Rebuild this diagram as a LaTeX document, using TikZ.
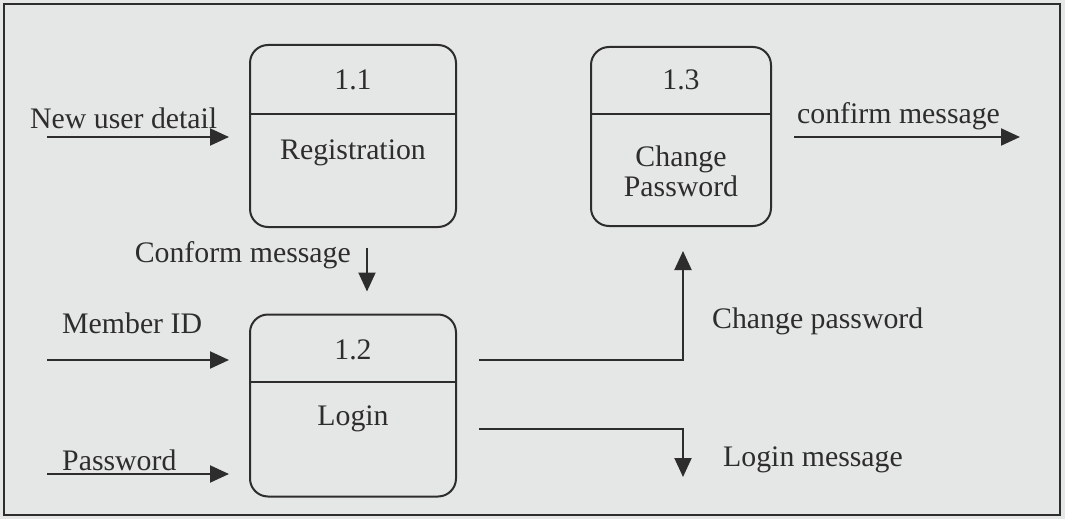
\documentclass[tikz,border=0pt]{standalone}
\usepackage{fontspec}
\setmainfont{Liberation Serif}
\usetikzlibrary{arrows.meta}
\definecolor{bg}{RGB}{229,231,230}
\definecolor{ink}{RGB}{45,45,45}
\tikzset{
  proc/.style={draw=ink, line width=2pt, rounded corners=18pt, minimum width=206pt, minimum height=182pt, inner sep=0pt},
  flow/.style={draw=ink, line width=2pt, -{Triangle[length=19pt,width=17pt]}},
  txt/.style={text=ink, inner sep=0pt, font=\fontsize{29.8}{30}\selectfont},
  divider/.style={draw=ink, line width=2pt}
}
\begin{document}
\begin{tikzpicture}[x=1pt,y=-1pt]
\useasboundingbox (0,0) rectangle (1065,519);
\fill[bg] (0,0) rectangle (1065,519);
\draw[ink, line width=2.5pt] (4,4) rectangle (1060,515);

% process boxes
\node[proc] (r) at (353,136) {};
\node[proc, minimum width=180pt, minimum height=179pt] (c) at (681,136.5) {};
\node[proc] (l) at (353,405.5) {};

\draw[divider] (r.west |- 0,114) -- (r.east |- 0,114);
\draw[divider] (c.west |- 0,114) -- (c.east |- 0,114);
\draw[divider] (l.west |- 0,382) -- (l.east |- 0,382);

\node[txt] (r1) at (353,80) {1.1};
\node[txt] (r2) at (353,153) {Registration};
\node[txt] (c1) at (681,80) {1.3};
\node[txt, align=center] (c2) at (681,171) {Change\\Password};
\node[txt] (l1) at (353,350) {1.2};
\node[txt] (l2) at (353,419) {Login};

% free ends
\coordinate (nu) at (47,137);
\coordinate (mi) at (47,360);
\coordinate (pw) at (47,474);
\coordinate (cm) at (1020,137);
\coordinate (lm) at (683,477);
\coordinate (cx) at (367,0);

% flows
\draw[flow, shorten >=20pt] (nu) -- (r.west |- nu);
\draw[flow, shorten >=20pt] (mi) -- (l.west |- mi);
\draw[flow, shorten >=20pt] (pw) -- (l.west |- pw);
\draw[flow, shorten <=20pt, shorten >=22pt] (r.south -| cx) -- (l.north -| cx);
\draw[flow, shorten <=22pt] (c.east |- cm) -- (cm);
\draw[flow, shorten <=22pt, shorten >=24pt] (l.east |- 0,360) -| (c.south -| lm);
\draw[flow, shorten <=22pt] (l.east |- 0,429) -| (lm);

% labels
\node[txt, anchor=west] (t1) at (30,118) {New user detail};
\node[txt, anchor=east] (t2) at (351,255) {Conform message};
\node[txt, anchor=west] (t3) at (62,323) {Member ID};
\node[txt, anchor=west] (t4) at (62,460) {Password};
\node[txt, anchor=west] (t5) at (797,116) {confirm message};
\node[txt, anchor=west] (t6) at (712,321) {Change password};
\node[txt, anchor=west] (t7) at (723,460) {Login message};
\end{tikzpicture}
\end{document}
